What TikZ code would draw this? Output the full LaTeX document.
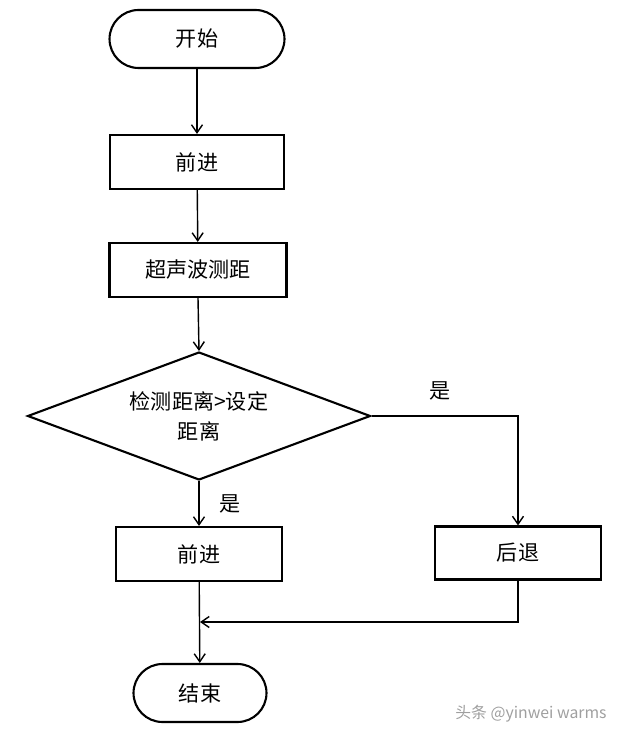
\documentclass[tikz,border=0pt]{standalone}
\usepackage{fontspec}
\newfontfamily\cjk{Noto Sans CJK SC}
\usetikzlibrary{shapes.geometric,arrows.meta}

\begin{document}
\begin{tikzpicture}[x=0.02cm,y=-0.02cm,
    font=\cjk\fontsize{12}{17}\selectfont,
    >={Straight Barb[length=1.6mm,width=2.2mm]}]

      \useasboundingbox (0,0) rectangle (626,739);

      \begin{scope}[every node/.style={draw,line width=1.2pt,inner sep=0pt}]
        \node[rounded corners=0.58cm,minimum width=3.5cm,minimum height=1.16cm]  (1) at (197,39)  {开始};
        \node[minimum width=3.48cm,minimum height=1.08cm]                        (2) at (197,162) {前进};
        \node[minimum width=3.54cm,minimum height=1.08cm]                        (3) at (198,270) {超声波测距};
        \node[diamond,aspect=2.68,minimum width=6.86cm,minimum height=2.56cm,
              align=center]                                                      (4) at (199,416) {检测距离>设定\\距离};
        \node[minimum width=3.32cm,minimum height=1.08cm]                        (5) at (199,554) {前进};
        \node[minimum width=3.32cm,minimum height=1.06cm]                        (6) at (518,553) {后退};
        \node[rounded corners=0.58cm,minimum width=2.66cm,minimum height=1.16cm] (7) at (200,693) {结束};
      \end{scope}

      \coordinate (8) at (200,622);

      \begin{scope}[line width=0.8pt]

        \begin{scope}[every edge/.style={draw,->}]
          \path (1) edge (2);
          \path (2) edge (3);
          \path (3.south) edge (4.north);
          \path (4.south) edge node[right=8pt] {是} (5.north);
          \path (5) edge (7);
        \end{scope}

        \draw[->] (4.east) -| node[pos=0.235,above=5pt] {是} (6.north);
        \draw[->] (6.south) |- (8);
      \end{scope}

      \node[text=gray!75,font=\cjk\fontsize{9}{9}\selectfont] (9) at (531,714) {头条 @yinwei warms};

    \end{tikzpicture}
\end{document}
